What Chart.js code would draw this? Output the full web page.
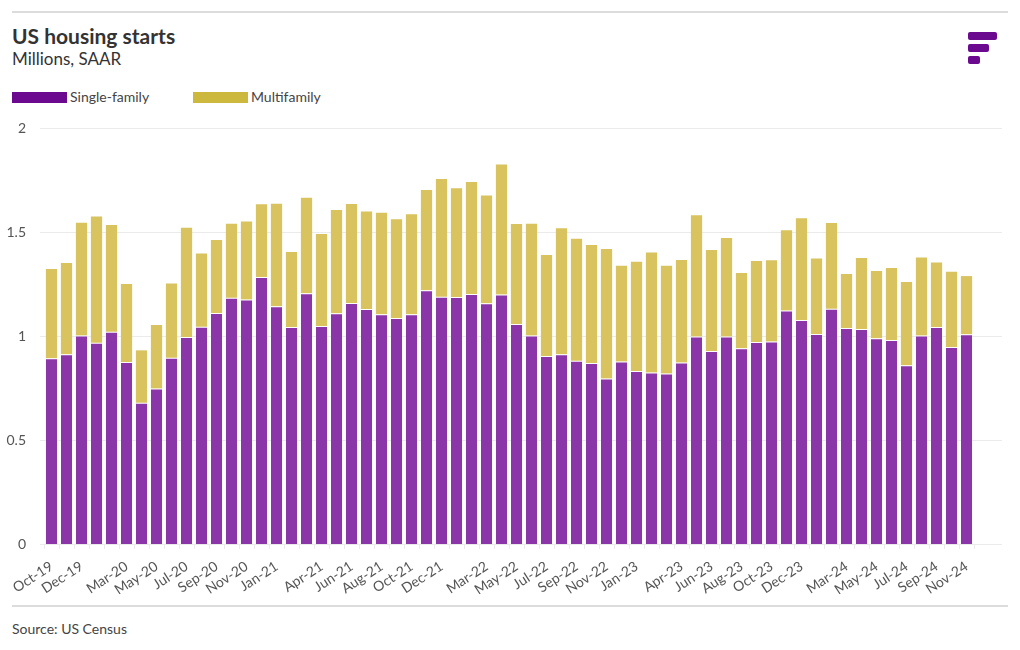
<!DOCTYPE html>
<html>
<head>
<meta charset="utf-8">
<script src="https://cdn.jsdelivr.net/npm/chart.js@4"></script>
<style>
  body { margin: 0; background: #fff; font-family: Lato, "Open Sans", sans-serif; color: #333; }
  #page { position: relative; width: 1020px; height: 650px; overflow: hidden; }
  .rule { position: absolute; left: 12px; width: 996px; height: 2px; background: #dcdcdc; }
  #title { position: absolute; left: 12px; top: 23px; font-size: 21px; font-weight: bold; color: #333; }
  #subtitle { position: absolute; left: 12px; top: 48px; font-size: 17px; color: #333; }
  #legend { position: absolute; left: 12px; top: 88px; font-size: 14px; color: #444; }
  .item { position: absolute; top: 0; white-space: nowrap; }
  .swatch { display: inline-block; width: 55px; height: 11px; vertical-align: -1px; margin-right: 3px; }
  #source { position: absolute; left: 12px; top: 620px; font-size: 14px; color: #444; }
  .logo { position: absolute; left: 968px; height: 8px; border-radius: 2px; background: #6c0a8f; }
  #wrap { position: absolute; left: 0; top: 100px; width: 1020px; height: 505px; }
</style>
</head>
<body>
<div id="page">
  <div class="rule" style="top:11px"></div>
  <div id="title">US housing starts</div>
  <div id="subtitle">Millions, SAAR</div>
  <div class="logo" style="top:32px;width:29px"></div>
  <div class="logo" style="top:44px;width:21px"></div>
  <div class="logo" style="top:56px;width:12px"></div>
  <div id="legend">
    <div class="item" style="left:0"><span class="swatch" style="background:#6c0a8f"></span>Single-family</div>
    <div class="item" style="left:181px"><span class="swatch" style="background:#cdb83e"></span>Multifamily</div>
  </div>
  <div id="wrap"><canvas id="grafico"></canvas></div>
  <div class="rule" style="top:605px"></div>
  <div id="source">Source: US Census</div>
</div>
<script>
const months = [
  'Oct-19', 'Nov-19', 'Dec-19',
  'Jan-20', 'Feb-20', 'Mar-20', 'Apr-20', 'May-20', 'Jun-20', 'Jul-20', 'Aug-20', 'Sep-20', 'Oct-20', 'Nov-20', 'Dec-20',
  'Jan-21', 'Feb-21', 'Mar-21', 'Apr-21', 'May-21', 'Jun-21', 'Jul-21', 'Aug-21', 'Sep-21', 'Oct-21', 'Nov-21', 'Dec-21',
  'Jan-22', 'Feb-22', 'Mar-22', 'Apr-22', 'May-22', 'Jun-22', 'Jul-22', 'Aug-22', 'Sep-22', 'Oct-22', 'Nov-22', 'Dec-22',
  'Jan-23', 'Feb-23', 'Mar-23', 'Apr-23', 'May-23', 'Jun-23', 'Jul-23', 'Aug-23', 'Sep-23', 'Oct-23', 'Nov-23', 'Dec-23',
  'Jan-24', 'Feb-24', 'Mar-24', 'Apr-24', 'May-24', 'Jun-24', 'Jul-24', 'Aug-24', 'Sep-24', 'Oct-24', 'Nov-24'
];

// labels that are actually printed under the axis
const shownLabels = [
  'Oct-19', 'Dec-19', 'Mar-20', 'May-20', 'Jul-20', 'Sep-20', 'Nov-20', 'Jan-21', 'Apr-21', 'Jun-21',
  'Aug-21', 'Oct-21', 'Dec-21', 'Mar-22', 'May-22', 'Jul-22', 'Sep-22', 'Nov-22', 'Jan-23', 'Apr-23',
  'Jun-23', 'Aug-23', 'Oct-23', 'Dec-23', 'Mar-24', 'May-24', 'Jul-24', 'Sep-24', 'Nov-24'
];

const singleFamily = [
  0.893, 0.912, 1.002,
  0.968, 1.021, 0.875, 0.679, 0.748, 0.896, 0.995, 1.045, 1.111, 1.184, 1.176, 1.284,
  1.143, 1.043, 1.205, 1.048, 1.109, 1.159, 1.130, 1.104, 1.087, 1.104, 1.220, 1.189,
  1.187, 1.202, 1.157, 1.199, 1.058, 1.003, 0.904, 0.912, 0.881, 0.870, 0.796, 0.877,
  0.832, 0.825, 0.820, 0.873, 0.997, 0.928, 0.997, 0.941, 0.971, 0.974, 1.123, 1.077,
  1.010, 1.131, 1.038, 1.034, 0.989, 0.981, 0.859, 1.002, 1.043, 0.947, 1.008
];

const multiFamily = [
  0.429, 0.439, 0.543,
  0.607, 0.513, 0.375, 0.252, 0.305, 0.357, 0.526, 0.352, 0.351, 0.356, 0.375, 0.349,
  0.493, 0.361, 0.460, 0.442, 0.497, 0.476, 0.468, 0.489, 0.474, 0.481, 0.482, 0.566,
  0.523, 0.538, 0.519, 0.626, 0.480, 0.537, 0.485, 0.606, 0.587, 0.568, 0.622, 0.461,
  0.525, 0.576, 0.518, 0.492, 0.583, 0.485, 0.474, 0.362, 0.390, 0.390, 0.385, 0.489,
  0.363, 0.412, 0.260, 0.341, 0.324, 0.346, 0.401, 0.375, 0.310, 0.362, 0.280
];

const yTicks = [0, 0.5, 1, 1.5, 2];

// horizontal gridlines run a bit past the bars, like the original
const wideGrid = {
  id: 'wideGrid',
  beforeDatasetsDraw(chart) {
    const y = chart.scales.y;
    const ctx = chart.ctx;
    ctx.save();
    ctx.strokeStyle = '#ebebeb';
    ctx.lineWidth = 1;
    yTicks.forEach(v => {
      const py = Math.round(y.getPixelForValue(v)) + 0.5;
      ctx.beginPath();
      ctx.moveTo(chart.chartArea.left - 4, py);
      ctx.lineTo(1002, py);
      ctx.stroke();
    });
    ctx.restore();
  }
};

new Chart(document.getElementById('grafico'), {
  type: 'bar',
  data: {
    labels: months,
    datasets: [
      {
        label: 'Single-family',
        data: singleFamily,
        backgroundColor: '#8a35a8',
        borderColor: '#ffffff',
        borderWidth: { top: 1, left: 0, right: 0, bottom: 0 },
        borderSkipped: false,
        barPercentage: 0.75,
        categoryPercentage: 1
      },
      {
        label: 'Multifamily',
        data: multiFamily,
        backgroundColor: '#d8c35e',
        borderWidth: 0,
        barPercentage: 0.75,
        categoryPercentage: 1
      }
    ]
  },
  options: {
    responsive: true,
    maintainAspectRatio: false,
    animation: false,
    layout: { padding: { top: 28, right: 46, bottom: 11, left: 0 } },
    plugins: { legend: { display: false }, tooltip: { enabled: false } },
    scales: {
      x: {
        stacked: true,
        offset: true,
        border: { display: false },
        grid: { drawOnChartArea: false, drawTicks: true, tickLength: 5, color: '#ececec', offset: true },
        afterFit: scale => { scale.height = 50; },
        ticks: {
          autoSkip: false,
          minRotation: 33,
          maxRotation: 33,
          padding: 9,
          color: '#555',
          font: { family: 'Lato', size: 14 },
          callback: function(value, index) {
            const lab = months[index];
            return shownLabels.includes(lab) ? lab : '';
          }
        }
      },
      y: {
        stacked: true,
        min: 0,
        max: 2,
        border: { display: false },
        grid: { display: false },
        afterFit: scale => { scale.width = 44; },
        afterBuildTicks: scale => { scale.ticks = yTicks.map(v => ({ value: v })); },
        ticks: {
          padding: 10,
          color: '#555',
          font: { family: 'Lato', size: 14 },
          callback: v => String(v)
        }
      }
    }
  },
  plugins: [wideGrid]
});
</script>
</body>
</html>
